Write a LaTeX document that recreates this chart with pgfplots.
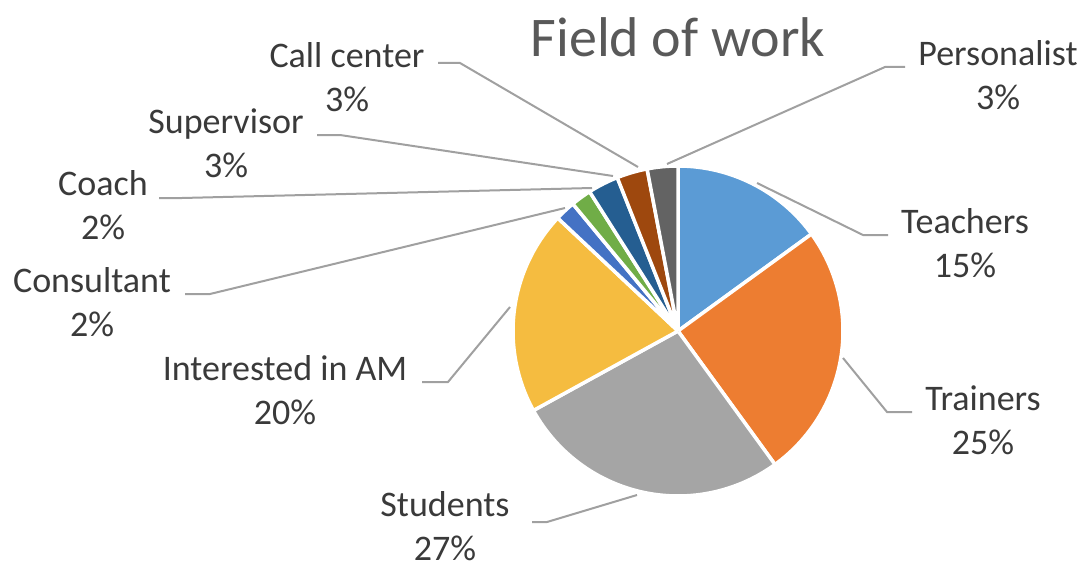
\documentclass[border=0pt]{standalone}
\usepackage{pgfplots}
\pgfplotsset{compat=1.18}
\usepackage{fontspec}
\setmainfont{Carlito}
\definecolor{cTeach}{HTML}{5B9BD5}
\definecolor{cTrain}{HTML}{ED7D31}
\definecolor{cStud}{HTML}{A5A5A5}
\definecolor{cInt}{HTML}{F5BC40}
\definecolor{cCons}{HTML}{4472C4}
\definecolor{cCoach}{HTML}{70AD47}
\definecolor{cSup}{HTML}{255E91}
\definecolor{cCall}{HTML}{9E480E}
\definecolor{cPers}{HTML}{636363}
\definecolor{lab}{HTML}{3A3A3A}
\definecolor{ttl}{HTML}{595959}
\definecolor{lead}{HTML}{A0A0A0}
% shares in percent, clockwise from 12 o'clock
\def\vTeach{15}\def\vTrain{25}\def\vStud{27}\def\vInt{20}
\def\vCons{2}\def\vCoach{2}\def\vSup{3}\def\vCall{3}\def\vPers{3}
\pgfmathsetmacro\aA{90}
\pgfmathsetmacro\aB{\aA-3.6*\vTeach}
\pgfmathsetmacro\aC{\aB-3.6*\vTrain}
\pgfmathsetmacro\aD{\aC-3.6*\vStud}
\pgfmathsetmacro\aE{\aD-3.6*\vInt}
\pgfmathsetmacro\aF{\aE-3.6*\vCons}
\pgfmathsetmacro\aG{\aF-3.6*\vCoach}
\pgfmathsetmacro\aH{\aG-3.6*\vSup}
\pgfmathsetmacro\aI{\aH-3.6*\vCall}
\pgfmathsetmacro\aJ{\aI-3.6*\vPers}
\newcommand{\slice}[3]{%
  \addplot[fill=#1, draw=white, line width=1.75bp, domain=#2:#3, samples=60, variable=\t]
    ({678+165*cos(\t)},{331-165*sin(\t)}) -- (axis cs:678,331) -- cycle;}
\newcommand{\lbl}[4]{%
  \node[anchor=base, font=\fontsize{18bp}{20bp}\selectfont, text=lab, inner sep=0pt] at (axis cs:#1,#2) {#3};
  \node[anchor=base, font=\fontsize{18bp}{20bp}\selectfont, text=lab, inner sep=0pt] at (axis cs:#1,#2+44) {#4};}
\begin{document}
\begin{tikzpicture}
\path[use as bounding box] (0,0) rectangle (543.5bp,285.5bp);
\begin{axis}[
  at={(0,0)}, anchor=south west,
  width=543.5bp, height=285.5bp, scale only axis,
  xmin=0, xmax=1087, ymin=0, ymax=571, y dir=reverse,
  hide axis, clip=false]
\slice{cTeach}{\aB}{\aA}
\slice{cTrain}{\aC}{\aB}
\slice{cStud}{\aD}{\aC}
\slice{cInt}{\aE}{\aD}
\slice{cCons}{\aF}{\aE}
\slice{cCoach}{\aG}{\aF}
\slice{cSup}{\aH}{\aG}
\slice{cCall}{\aI}{\aH}
\slice{cPers}{\aJ}{\aI}
% leader lines
\begin{scope}[draw=lead, line width=1bp]
\draw (axis cs:438,63) -- (axis cs:460,63) -- (axis cs:638,167);
\draw (axis cs:317,135) -- (axis cs:340,135) -- (axis cs:613,176);
\draw (axis cs:159,198) -- (axis cs:182,198) -- (axis cs:592,188);
\draw (axis cs:185,294) -- (axis cs:210,294) -- (axis cs:565,208);
\draw (axis cs:422,382) -- (axis cs:448,382) -- (axis cs:510,307);
\draw (axis cs:532,522) -- (axis cs:547,522) -- (axis cs:637,495);
\draw (axis cs:757,183) -- (axis cs:863,235) -- (axis cs:888,235);
\draw (axis cs:843,358) -- (axis cs:887,412) -- (axis cs:912,412);
\draw (axis cs:667,164) -- (axis cs:885,67) -- (axis cs:905,67);
\end{scope}
% labels
\lbl{347}{67}{Call center}{3\%}
\lbl{998}{65}{Personalist}{3\%}
\lbl{226}{133}{Supervisor}{3\%}
\lbl{103}{195}{Coach}{2\%}
\lbl{92}{292}{Consultant}{2\%}
\lbl{285}{380}{Interested in AM}{20\%}
\lbl{445}{516}{Students}{27\%}
\lbl{965}{233}{Teachers}{15\%}
\lbl{983}{410}{Trainers}{25\%}
\node[anchor=base, font=\fontsize{28bp}{32bp}\selectfont, text=ttl, inner sep=0pt] at (axis cs:678,57) {Field of work};
\end{axis}
\end{tikzpicture}
\end{document}
